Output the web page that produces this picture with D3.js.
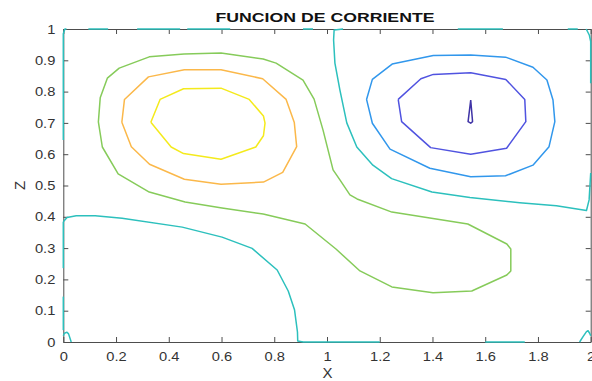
<!DOCTYPE html>
<html>
<head>
<meta charset="utf-8">
<script src="https://cdn.jsdelivr.net/npm/d3@7"></script>
<style>
  html, body { margin: 0; padding: 0; background: #ffffff; }
  svg { display: block; }
  text { font-family: "Liberation Sans", Arial, Helvetica, sans-serif; }
</style>
</head>
<body>
<svg id="chart" width="592" height="381"></svg>
<script>
// Axis ticks
const xTicks = [0, 0.2, 0.4, 0.6, 0.8, 1, 1.2, 1.4, 1.6, 1.8, 2];
const xTickLabels = ["0", "0.2", "0.4", "0.6", "0.8", "1", "1.2", "1.4", "1.6", "1.8", "2"];
const zTicks = [0, 0.1, 0.2, 0.3, 0.4, 0.5, 0.6, 0.7, 0.8, 0.9, 1];
const zTickLabels = ["0", "0.1", "0.2", "0.3", "0.4", "0.5", "0.6", "0.7", "0.8", "0.9", "1"];

// Stream-function contours, [x, z] vertices, highest level first
const levelTop = [
  [0.332, 0.702], [0.367, 0.775], [0.456, 0.809], [0.598, 0.811], [0.705, 0.775],
  [0.759, 0.722], [0.765, 0.699], [0.759, 0.659], [0.730, 0.623], [0.598, 0.584],
  [0.456, 0.602], [0.409, 0.623], [0.332, 0.702]
];
const levelHigh = [
  [0.222, 0.702], [0.232, 0.775], [0.323, 0.847], [0.459, 0.870], [0.598, 0.870],
  [0.756, 0.841], [0.845, 0.775], [0.876, 0.701], [0.885, 0.624], [0.832, 0.542],
  [0.759, 0.511], [0.598, 0.504], [0.459, 0.520], [0.327, 0.568], [0.258, 0.624],
  [0.222, 0.702]
];
const levelMid = [
  [0.758, 0.409], [0.917, 0.377], [1.034, 0.297], [1.125, 0.227], [1.246, 0.176],
  [1.402, 0.157], [1.549, 0.163], [1.682, 0.214], [1.697, 0.227], [1.697, 0.297],
  [1.682, 0.313], [1.534, 0.377], [1.390, 0.396], [1.246, 0.415], [1.114, 0.457],
  [1.087, 0.470], [1.049, 0.518], [1.023, 0.550], [0.985, 0.677], [0.951, 0.776],
  [0.909, 0.837], [0.807, 0.891], [0.758, 0.904], [0.598, 0.923], [0.458, 0.920],
  [0.326, 0.911], [0.212, 0.875], [0.167, 0.843], [0.140, 0.780], [0.133, 0.703],
  [0.148, 0.623], [0.208, 0.537], [0.326, 0.479], [0.462, 0.447], [0.602, 0.428],
  [0.758, 0.409]
];
// Zero level: interior separatrices plus fragments along the walls
const levelZero = [
  [[0.000, 0.384], [0.014, 0.398], [0.049, 0.403], [0.121, 0.403], [0.223, 0.395],
   [0.451, 0.367], [0.602, 0.335], [0.716, 0.299], [0.811, 0.230], [0.853, 0.163],
   [0.877, 0.102], [0.888, 0.032], [0.889, 0.003], [0.910, 0.000], [1.200, 0.000]],
  [[1.061, 1.000], [1.027, 0.997], [1.025, 0.965], [1.030, 0.891], [1.049, 0.805],
   [1.075, 0.700], [1.113, 0.623], [1.174, 0.565], [1.245, 0.522], [1.398, 0.479],
   [1.542, 0.462], [1.731, 0.445], [1.870, 0.435], [1.984, 0.420], [1.994, 0.454],
   [2.000, 0.540]],
  [[0.000, 0.645], [0.000, 0.985], [0.006, 1.000], [0.012, 1.000]],
  [[0.000, 0.236], [0.000, 0.384]],
  [[0.000, 0.038], [0.000, 0.145]],
  [[0.000, 0.020], [0.004, 0.028], [0.014, 0.031], [0.020, 0.026], [0.030, 0.000]],
  [[0.095, 1.000], [0.170, 1.000]],
  [[0.280, 1.000], [0.443, 1.000]],
  [[0.470, 1.000], [0.633, 1.000]],
  [[0.909, 1.000], [0.947, 1.000]],
  [[1.496, 1.000], [1.667, 1.000]],
  [[1.913, 1.000], [1.951, 1.000]],
  [[1.983, 1.000], [1.995, 0.980], [2.000, 0.960], [2.000, 0.827]],
  [[1.600, 0.000], [1.750, 0.000]],
  [[1.958, 0.000], [1.971, 0.017], [1.984, 0.033], [1.990, 0.036], [1.996, 0.028], [2.000, 0.020]]
];
const levelLow = [
  [1.150, 0.775], [1.172, 0.839], [1.247, 0.888], [1.403, 0.915], [1.545, 0.917],
  [1.677, 0.910], [1.781, 0.878], [1.834, 0.837], [1.857, 0.773], [1.864, 0.704],
  [1.842, 0.624], [1.781, 0.565], [1.677, 0.531], [1.545, 0.528], [1.390, 0.555],
  [1.239, 0.616], [1.172, 0.699], [1.150, 0.775]
];
const levelLower = [
  [1.270, 0.775], [1.283, 0.704], [1.393, 0.621], [1.545, 0.600], [1.681, 0.619],
  [1.754, 0.704], [1.750, 0.775], [1.678, 0.839], [1.545, 0.860], [1.403, 0.855],
  [1.356, 0.841], [1.270, 0.775]
];
const levelBottom = [
  [1.545, 0.773], [1.552, 0.704], [1.545, 0.699], [1.535, 0.704], [1.545, 0.773]
];

const svg = d3.select("#chart");
const plot = { left: 63.3, right: 590.7, top: 29, bottom: 342 };

const x = d3.scaleLinear().domain([0, 2]).range([plot.left, plot.right]);
const y = d3.scaleLinear().domain([0, 1]).range([plot.bottom, plot.top]);

const axisColor = "#4d4d4d";
const labelColor = "#333333";
const stretch = 1.13;

// Axes: MATLAB-style box with inward ticks on all four sides
const gBottom = svg.append("g")
  .attr("transform", `translate(0,${plot.bottom})`)
  .call(d3.axisBottom(x).tickValues(xTicks)
    .tickFormat((d, i) => xTickLabels[i])
    .tickSizeInner(-5).tickSizeOuter(0).tickPadding(10));
const gTop = svg.append("g")
  .attr("transform", `translate(0,${plot.top})`)
  .call(d3.axisTop(x).tickValues(xTicks).tickFormat("")
    .tickSizeInner(-5).tickSizeOuter(0));
const gLeft = svg.append("g")
  .attr("transform", `translate(${plot.left},0)`)
  .call(d3.axisLeft(y).tickValues(zTicks)
    .tickFormat((d, i) => zTickLabels[i])
    .tickSizeInner(-5).tickSizeOuter(0).tickPadding(8));
const gRight = svg.append("g")
  .attr("transform", `translate(${plot.right},0)`)
  .call(d3.axisRight(y).tickValues(zTicks).tickFormat("")
    .tickSizeInner(-5).tickSizeOuter(0));

[gBottom, gTop, gLeft, gRight].forEach(g => {
  g.select(".domain").attr("stroke", axisColor).attr("stroke-width", 1);
  g.selectAll(".tick line").attr("stroke", axisColor).attr("stroke-width", 1);
  g.selectAll(".tick text")
    .attr("fill", labelColor)
    .style("font-family", "'Liberation Sans', Arial, Helvetica, sans-serif")
    .style("font-size", "13px");
});
gBottom.selectAll(".tick text").attr("transform", `scale(${stretch},1)`);
gLeft.selectAll(".tick text")
  .attr("x", -8 / stretch)
  .attr("transform", `scale(${stretch},1)`);

// Contour lines
const line = d3.line().x(d => x(d[0])).y(d => y(d[1]));
const contourGroup = svg.append("g")
  .attr("fill", "none")
  .attr("stroke-width", 1.5)
  .attr("stroke-linejoin", "round");

const contourSets = [
  { paths: levelZero, color: "#2cc0bd" },
  { paths: [levelMid], color: "#86cb5a" },
  { paths: [levelHigh], color: "#fbb84a" },
  { paths: [levelTop], color: "#f4ea1c" },
  { paths: [levelLow], color: "#3197ec" },
  { paths: [levelLower], color: "#5053e0" },
  { paths: [levelBottom], color: "#3f33a6" }
];
contourSets.forEach(set => {
  contourGroup.selectAll(null)
    .data(set.paths)
    .enter().append("path")
    .attr("d", line)
    .attr("stroke", set.color);
});

// Titles
svg.append("text")
  .attr("x", 325).attr("y", 22)
  .attr("text-anchor", "middle")
  .attr("font-weight", "bold")
  .attr("font-size", 13)
  .attr("textLength", 219)
  .attr("lengthAdjust", "spacingAndGlyphs")
  .attr("fill", "#111111")
  .text("FUNCION DE CORRIENTE");

svg.append("text")
  .attr("x", 327.5).attr("y", 378)
  .attr("text-anchor", "middle")
  .attr("font-size", 15)
  .attr("fill", labelColor)
  .text("X");

svg.append("text")
  .attr("transform", "translate(24.5,185.5) rotate(-90)")
  .attr("text-anchor", "middle")
  .attr("font-size", 15)
  .attr("fill", labelColor)
  .text("Z");
</script>
</body>
</html>
